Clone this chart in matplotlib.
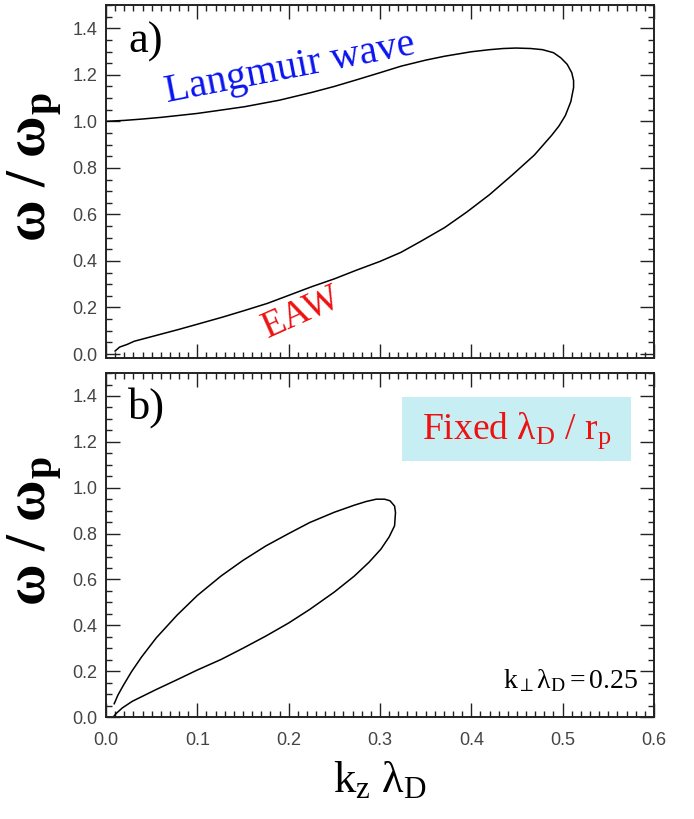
import matplotlib
matplotlib.use("Agg")
import matplotlib.pyplot as plt
from matplotlib.patches import Rectangle
from matplotlib.ticker import MultipleLocator

# =========================================
# DATOS: RELACION DE DISPERSION
# =========================================

# panel a) rama Langmuir (arriba) + rama EAW (abajo), curva cerrada
kz_a = [0.000, 0.020, 0.040, 0.060, 0.079, 0.100, 0.120, 0.152, 0.190, 0.225,
        0.250, 0.274, 0.300, 0.323, 0.350, 0.371, 0.400, 0.420, 0.435, 0.449,
        0.465, 0.478, 0.490, 0.498, 0.505, 0.510, 0.512, 0.512, 0.509, 0.503,
        0.496, 0.488, 0.469, 0.445, 0.420, 0.395, 0.371, 0.345, 0.323, 0.300,
        0.274, 0.250, 0.225, 0.200, 0.177, 0.150, 0.128, 0.100, 0.079, 0.055,
        0.031, 0.023, 0.015, 0.010]
w_a = [1.000, 1.004, 1.010, 1.017, 1.025, 1.034, 1.045, 1.063, 1.091, 1.124,
       1.150, 1.178, 1.209, 1.237, 1.263, 1.280, 1.299, 1.308, 1.313, 1.315,
       1.313, 1.308, 1.295, 1.273, 1.245, 1.209, 1.175, 1.145, 1.085, 1.025,
       0.980, 0.940, 0.855, 0.770, 0.685, 0.610, 0.544, 0.485, 0.437, 0.398,
       0.360, 0.323, 0.289, 0.252, 0.218, 0.185, 0.159, 0.128, 0.105, 0.080,
       0.055, 0.041, 0.030, 0.013]

# panel b) lambda_D / r_p fijo, k_perp lambda_D = 0.25
kz_b = [0.009, 0.013, 0.019, 0.028, 0.039, 0.055, 0.078, 0.100, 0.126, 0.150,
        0.175, 0.200, 0.223, 0.250, 0.272, 0.285, 0.296, 0.305, 0.311, 0.316,
        0.317, 0.316, 0.310, 0.301, 0.288, 0.272, 0.250, 0.223, 0.200, 0.175,
        0.150, 0.126, 0.100, 0.078, 0.055, 0.029, 0.018, 0.011, 0.009]
w_b = [0.058, 0.095, 0.138, 0.198, 0.262, 0.345, 0.445, 0.530, 0.615, 0.683,
       0.746, 0.800, 0.848, 0.893, 0.924, 0.940, 0.950, 0.950, 0.943, 0.920,
       0.892, 0.834, 0.785, 0.732, 0.675, 0.615, 0.545, 0.469, 0.410, 0.353,
       0.300, 0.251, 0.205, 0.163, 0.120, 0.069, 0.040, 0.015, 0.005]

x_ticks = [0.0, 0.1, 0.2, 0.3, 0.4, 0.5, 0.6]
y_ticks = [0.0, 0.2, 0.4, 0.6, 0.8, 1.0, 1.2, 1.4]

# =========================================
# ESTILO
# =========================================

plt.rcParams["mathtext.fontset"] = "custom"
plt.rcParams["mathtext.rm"] = "Liberation Serif"
plt.rcParams["mathtext.it"] = "Liberation Serif:italic"
plt.rcParams["mathtext.bf"] = "Liberation Serif:bold"

serif = "Liberation Serif"

fig = plt.figure(figsize=(6.94, 8.19), dpi=100)
ax_a = fig.add_axes([0.1527, 0.5629, 0.7896, 0.4310])
ax_b = fig.add_axes([0.1527, 0.1245, 0.7896, 0.4200])


def estilo(ax, show_x, ymin):
    ax.set_xlim(0, 0.6)
    ax.set_ylim(ymin, 1.5)
    ax.set_xticks(x_ticks)
    ax.set_yticks(y_ticks)
    ax.xaxis.set_minor_locator(MultipleLocator(0.01))
    ax.yaxis.set_minor_locator(MultipleLocator(0.05))
    ax.tick_params(which="both", direction="in", top=True, right=True,
                   colors="#222222", labelcolor="#444444", width=1.0)
    ax.tick_params(which="major", length=10)
    ax.tick_params(which="minor", length=4.5)
    ax.tick_params(axis="y", pad=6)
    for s in ax.spines.values():
        s.set_linewidth(1.4)
        s.set_color("#222222")
    if show_x:
        ax.set_xticklabels([f"{v:.1f}" for v in x_ticks])
        ax.tick_params(axis="x", pad=11)
    else:
        ax.set_xticklabels([])
    ax.set_yticklabels([f"{v:.1f}" for v in y_ticks])
    for lab in ax.get_yticklabels() + ax.get_xticklabels():
        lab.set_fontfamily("Liberation Sans")
        lab.set_fontsize(13)
    ax.set_ylabel(r"$\mathbf{\omega\ /\ \omega_p}$", fontsize=41)
    ax.yaxis.set_label_coords(-0.074, 0.54)


# =========================================
# PANEL a)
# =========================================

ax_a.plot(kz_a, w_a, color="black", linewidth=1.1)
estilo(ax_a, show_x=False, ymin=-0.017)
ax_a.text(0.024, 1.34, "a)", fontsize=32, family=serif, va="center")
ax_a.text(0.2015, 1.225, "Langmuir wave", fontsize=29, family=serif,
          color="#0a14f0", rotation=11, ha="center", va="center")
ax_a.text(0.2146, 0.18, "EAW", fontsize=27, family=serif,
          color="#ee1111", rotation=24, ha="center", va="center")

# =========================================
# PANEL b)
# =========================================

ax_b.plot(kz_b, w_b, color="black", linewidth=1.1)
estilo(ax_b, show_x=True, ymin=0.0)
ax_b.text(0.024, 1.35, "b)", fontsize=32, family=serif, va="center")
ax_b.add_patch(Rectangle((0.540, 0.744), 0.418, 0.186, transform=ax_b.transAxes,
                         facecolor="#c6eef3", edgecolor="none", zorder=1))
ax_b.text(0.749, 0.832, r"Fixed $\mathrm{\lambda_D}$ / $\mathrm{r_p}$",
          fontsize=27, family=serif, color="#ee1111", ha="center", va="center",
          transform=ax_b.transAxes, zorder=2)
ax_b.text(0.583, 0.16, r"$\mathrm{k_\perp\lambda_D = 0.25}$", fontsize=20,
          ha="right", va="center")
ax_b.set_xlabel(r"$\mathrm{k_z\ \lambda_D}$", fontsize=32, labelpad=6)

fig.savefig("out.png", dpi=100)
